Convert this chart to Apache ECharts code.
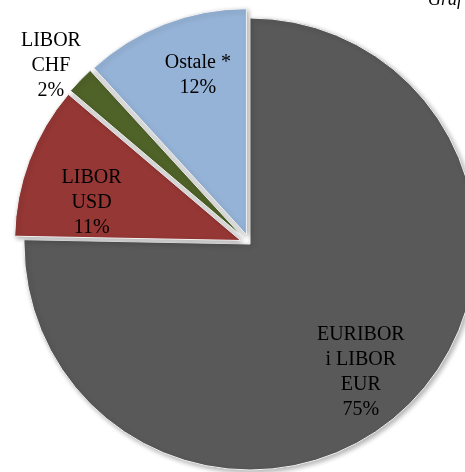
<!DOCTYPE html>
<html>
<head>
<meta charset="utf-8">
<script src="https://cdn.jsdelivr.net/npm/echarts@6/dist/echarts.min.js"></script>
<style>
  html, body { margin: 0; padding: 0; background: #fff; }
  #chart { width: 465px; height: 472px; }
</style>
</head>
<body>
<div id="chart"></div>
<script>
const names = ['EURIBOR\ni LIBOR\nEUR', 'LIBOR\nUSD', 'LIBOR\nCHF', 'Ostale *'];
const values = [75.3, 10.9, 2.0, 11.8];
const colors = ['#595959', '#953735', '#4f6228', '#95b3d7'];
const exploded = [false, true, true, true];
// label placement: share of radius along the mid angle, then a small nudge in px
const labelRadius = [0.75, 0.72, 1.19, 0.75];
const labelNudge = [[-10, 5], [6, 21], [4, 17], [14, 1]];

const cx = 250;
const cy = 244;
const radius = 226;

const total = values.reduce((a, b) => a + b, 0);
const midAngles = [];
let acc = 0;
values.forEach((v) => {
  midAngles.push(((acc + v / 2) / total) * Math.PI * 2);
  acc += v;
});

const chart = echarts.init(document.getElementById('chart'));
chart.setOption({
  animation: false,
  graphic: [
    {
      type: 'text',
      left: 428,
      top: -9,
      style: {
        text: 'Graf',
        font: 'italic 18px "Liberation Serif"',
        fill: '#000',
      },
    },
  ],
  series: [
    {
      type: 'pie',
      center: [cx, cy],
      radius: radius,
      startAngle: 90,
      selectedMode: 'multiple',
      selectedOffset: 10,
      label: {
        show: true,
        position: 'inside',
        formatter: (p) => p.name + '\n' + Math.round(p.value) + '%',
        fontFamily: 'Liberation Serif',
        fontSize: 20,
        lineHeight: 25,
        color: '#000',
        align: 'center',
      },
      labelLine: { show: false },
      labelLayout: (params) => {
        const i = params.dataIndex;
        const a = midAngles[i];
        const shift = radius * (labelRadius[i] - 0.5);
        return {
          dx: Math.sin(a) * shift + labelNudge[i][0],
          dy: -Math.cos(a) * shift + labelNudge[i][1],
        };
      },
      itemStyle: {
        borderColor: '#f2f2f2',
        borderWidth: 1,
        shadowBlur: 5,
        shadowColor: 'rgba(0,0,0,0.3)',
        shadowOffsetX: 2,
        shadowOffsetY: 2,
      },
      emphasis: { disabled: true },
      data: names.map((name, i) => ({
        name: name,
        value: values[i],
        selected: exploded[i],
        itemStyle: { color: colors[i] },
      })),
    },
  ],
});
</script>
</body>
</html>
